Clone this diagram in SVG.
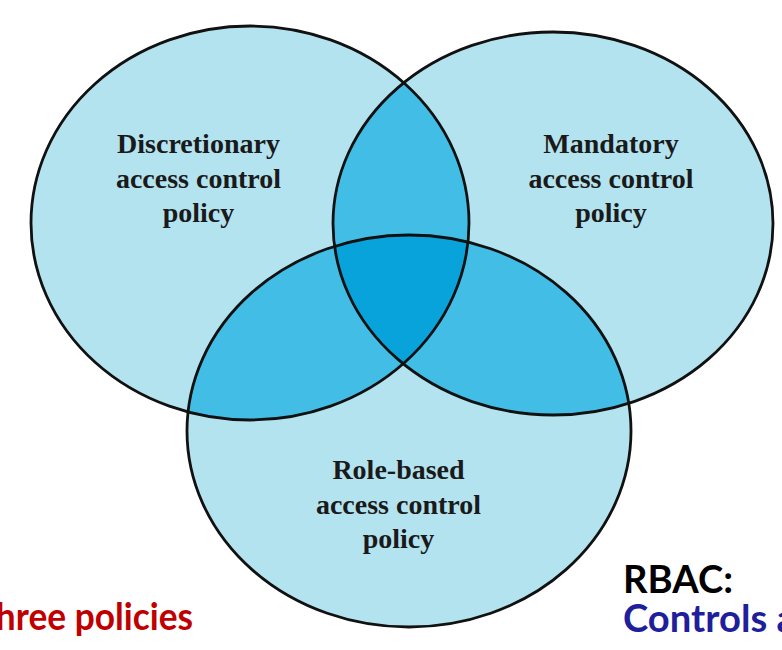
<svg xmlns="http://www.w3.org/2000/svg" width="782" height="650" viewBox="0 0 782 650">
  <style>
    .light { fill: #b4e3f0; }
    .mid { fill: #42bee6; }
    .dark { fill: #09a3dc; }
    .outline { fill: none; stroke: #111; stroke-width: 2.8; }
    .lbl { font-family: "Liberation Serif", "Times New Roman", serif; font-weight: bold; font-size: 28px; fill: #1a1a1a; text-anchor: middle; }
    .slide { font-family: Lato, "Open Sans", "Liberation Sans", sans-serif; font-weight: bold; font-size: 38px; }
  </style>
  <defs>
    <clipPath id="cL"><ellipse cx="250" cy="223" rx="219" ry="197"/></clipPath>
    <clipPath id="cR"><ellipse cx="553" cy="223.5" rx="220" ry="191.5"/></clipPath>
  </defs>

  <rect x="0" y="0" width="782" height="650" fill="#ffffff"/>

  <g id="regions">
    <ellipse class="light" cx="250" cy="223" rx="219" ry="197"/>
    <ellipse class="light" cx="553" cy="223.5" rx="220" ry="191.5"/>
    <ellipse class="light" cx="409" cy="431" rx="222" ry="196"/>
    <ellipse class="mid" cx="553" cy="223.5" rx="220" ry="191.5" clip-path="url(#cL)"/>
    <ellipse class="mid" cx="409" cy="431" rx="222" ry="196" clip-path="url(#cL)"/>
    <ellipse class="mid" cx="409" cy="431" rx="222" ry="196" clip-path="url(#cR)"/>
    <g clip-path="url(#cL)">
      <ellipse class="dark" cx="409" cy="431" rx="222" ry="196" clip-path="url(#cR)"/>
    </g>
  </g>

  <g id="dac">
    <ellipse class="outline" cx="250" cy="223" rx="219" ry="197"/>
    <text class="lbl" x="198.5" y="153">Discretionary</text>
    <text class="lbl" x="198.5" y="188">access control</text>
    <text class="lbl" x="198.5" y="222">policy</text>
  </g>

  <g id="mac">
    <ellipse class="outline" cx="553" cy="223.5" rx="220" ry="191.5"/>
    <text class="lbl" x="611" y="153">Mandatory</text>
    <text class="lbl" x="611" y="188">access control</text>
    <text class="lbl" x="611" y="222">policy</text>
  </g>

  <g id="rbac">
    <ellipse class="outline" cx="409" cy="431" rx="222" ry="196"/>
    <text class="lbl" x="398.5" y="479">Role-based</text>
    <text class="lbl" x="398.5" y="514">access control</text>
    <text class="lbl" x="398.5" y="548">policy</text>
  </g>

  <g id="slide-text">
    <text class="slide" x="-25" y="630" fill="#c00000" textLength="218" lengthAdjust="spacingAndGlyphs">Three policies</text>
    <text class="slide" x="-20" y="679" fill="#c00000">are not mutually exclusive</text>
    <text class="slide" x="623" y="593" fill="#000000" textLength="110" lengthAdjust="spacingAndGlyphs">RBAC:</text>
    <text class="slide" x="623" y="632" fill="#1f1f9c" textLength="263" lengthAdjust="spacingAndGlyphs">Controls access</text>
  </g>
</svg>
